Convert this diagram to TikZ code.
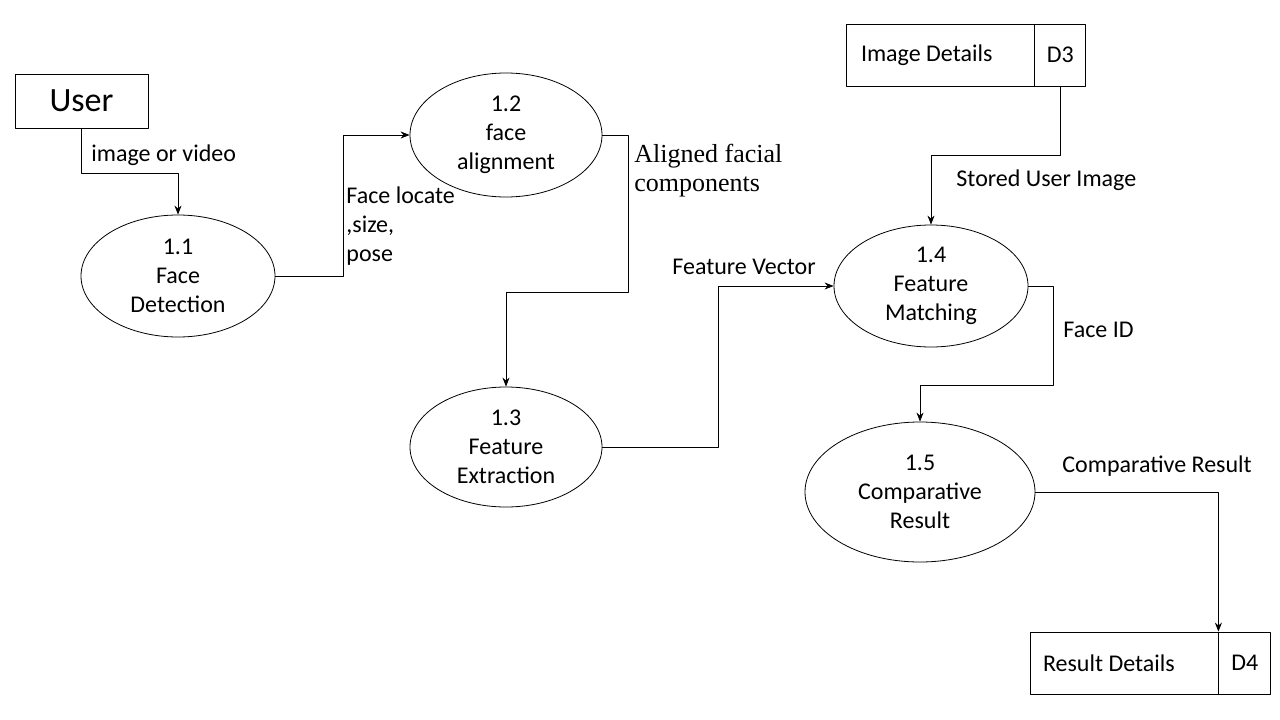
\documentclass[tikz,border=0pt]{standalone}
\usepackage{fontspec}
\setmainfont{Carlito}
\newfontfamily\capserif{Liberation Serif}
\usetikzlibrary{shapes.geometric,arrows.meta}
\tikzset{
  proc/.style={draw,ellipse,inner sep=0pt,align=center,font=\fontsize{24}{29}\selectfont},
  store/.style={draw,rectangle,inner sep=0pt,minimum height=62,font=\fontsize{24}{29}\selectfont},
  lbl/.style={anchor=west,inner sep=0pt,align=left,font=\fontsize{24}{29}\selectfont},
  flow/.style={-{Stealth[length=9pt,width=7pt]}}
}
\begin{document}
\begin{tikzpicture}[x=1pt,y=-1pt,line join=round,line width=0.8pt]
\useasboundingbox (0,0) rectangle (1280,720);
% user
\node[draw,inner sep=0pt,minimum width=133,minimum height=54,font=\fontsize{34}{40}\selectfont] (user) at (81.5,101) {User};
% processes
\node[proc,minimum width=194,minimum height=122] (p11) at (178,276) {1.1\\Face\\Detection};
\node[proc,minimum width=192,minimum height=124] (p12) at (506,135) {1.2\\face\\alignment};
\node[proc,minimum width=192,minimum height=120] (p13) at (506,447) {1.3\\Feature\\Extraction};
\node[proc,minimum width=194,minimum height=122] (p14) at (931,286) {1.4\\Feature\\Matching};
\node[proc,minimum width=230,minimum height=140] (p15) at (920,492) {1.5\\Comparative\\Result};
% data stores
\node[store,minimum width=188] (d3name) at (940,55) {};
\node[store,minimum width=51,anchor=west] (d3id) at (d3name.east) {D3};
\node[lbl] (d3text) at ([xshift=15]d3name.west) {Image Details};
\node[store,minimum width=188] (d4name) at (1124,663) {};
\node[store,minimum width=52,anchor=west] (d4id) at (d4name.east) {D4};
\node[lbl] (d4text) at ([xshift=13]d4name.west) {Result Details};
% bends
\coordinate (k1) at (628,292);
\coordinate (k2) at (718,286);
\coordinate (k4) at (1053,385);
% flows
\draw[flow] (user.south) -- ++(0,45) -| (p11.north);
\draw[flow] (p11.east) -- ++(68,0) |- (p12.west);
\draw[flow] (p12.east) -| (k1) -| (p13.north);
\draw[flow] (p13.east) -| (k2) -- (p14.west);
\draw[flow] (d3id.south) -- ++(0,69) -| (p14.north);
\draw[flow] (p14.east) -| (k4) -| (p15.north);
\draw[flow] (p15.east) -| (d4name.north east);
% flow labels
\node[lbl] (limg) at (91,155) {image or video};
\node[lbl] (lloc) at (346,226) {Face locate\\,size,\\pose};
\node[lbl,font=\fontsize{26}{29}\capserif] (lalign) at (634,171) {Aligned facial\\components};
\node[lbl] (lvec) at (672,267) {Feature Vector};
\node[lbl] (lstored) at (956,180) {Stored User Image};
\node[lbl] (lid) at (1063,330) {Face ID};
\node[lbl] (lcmp) at (1062,466) {Comparative Result};
\end{tikzpicture}
\end{document}
